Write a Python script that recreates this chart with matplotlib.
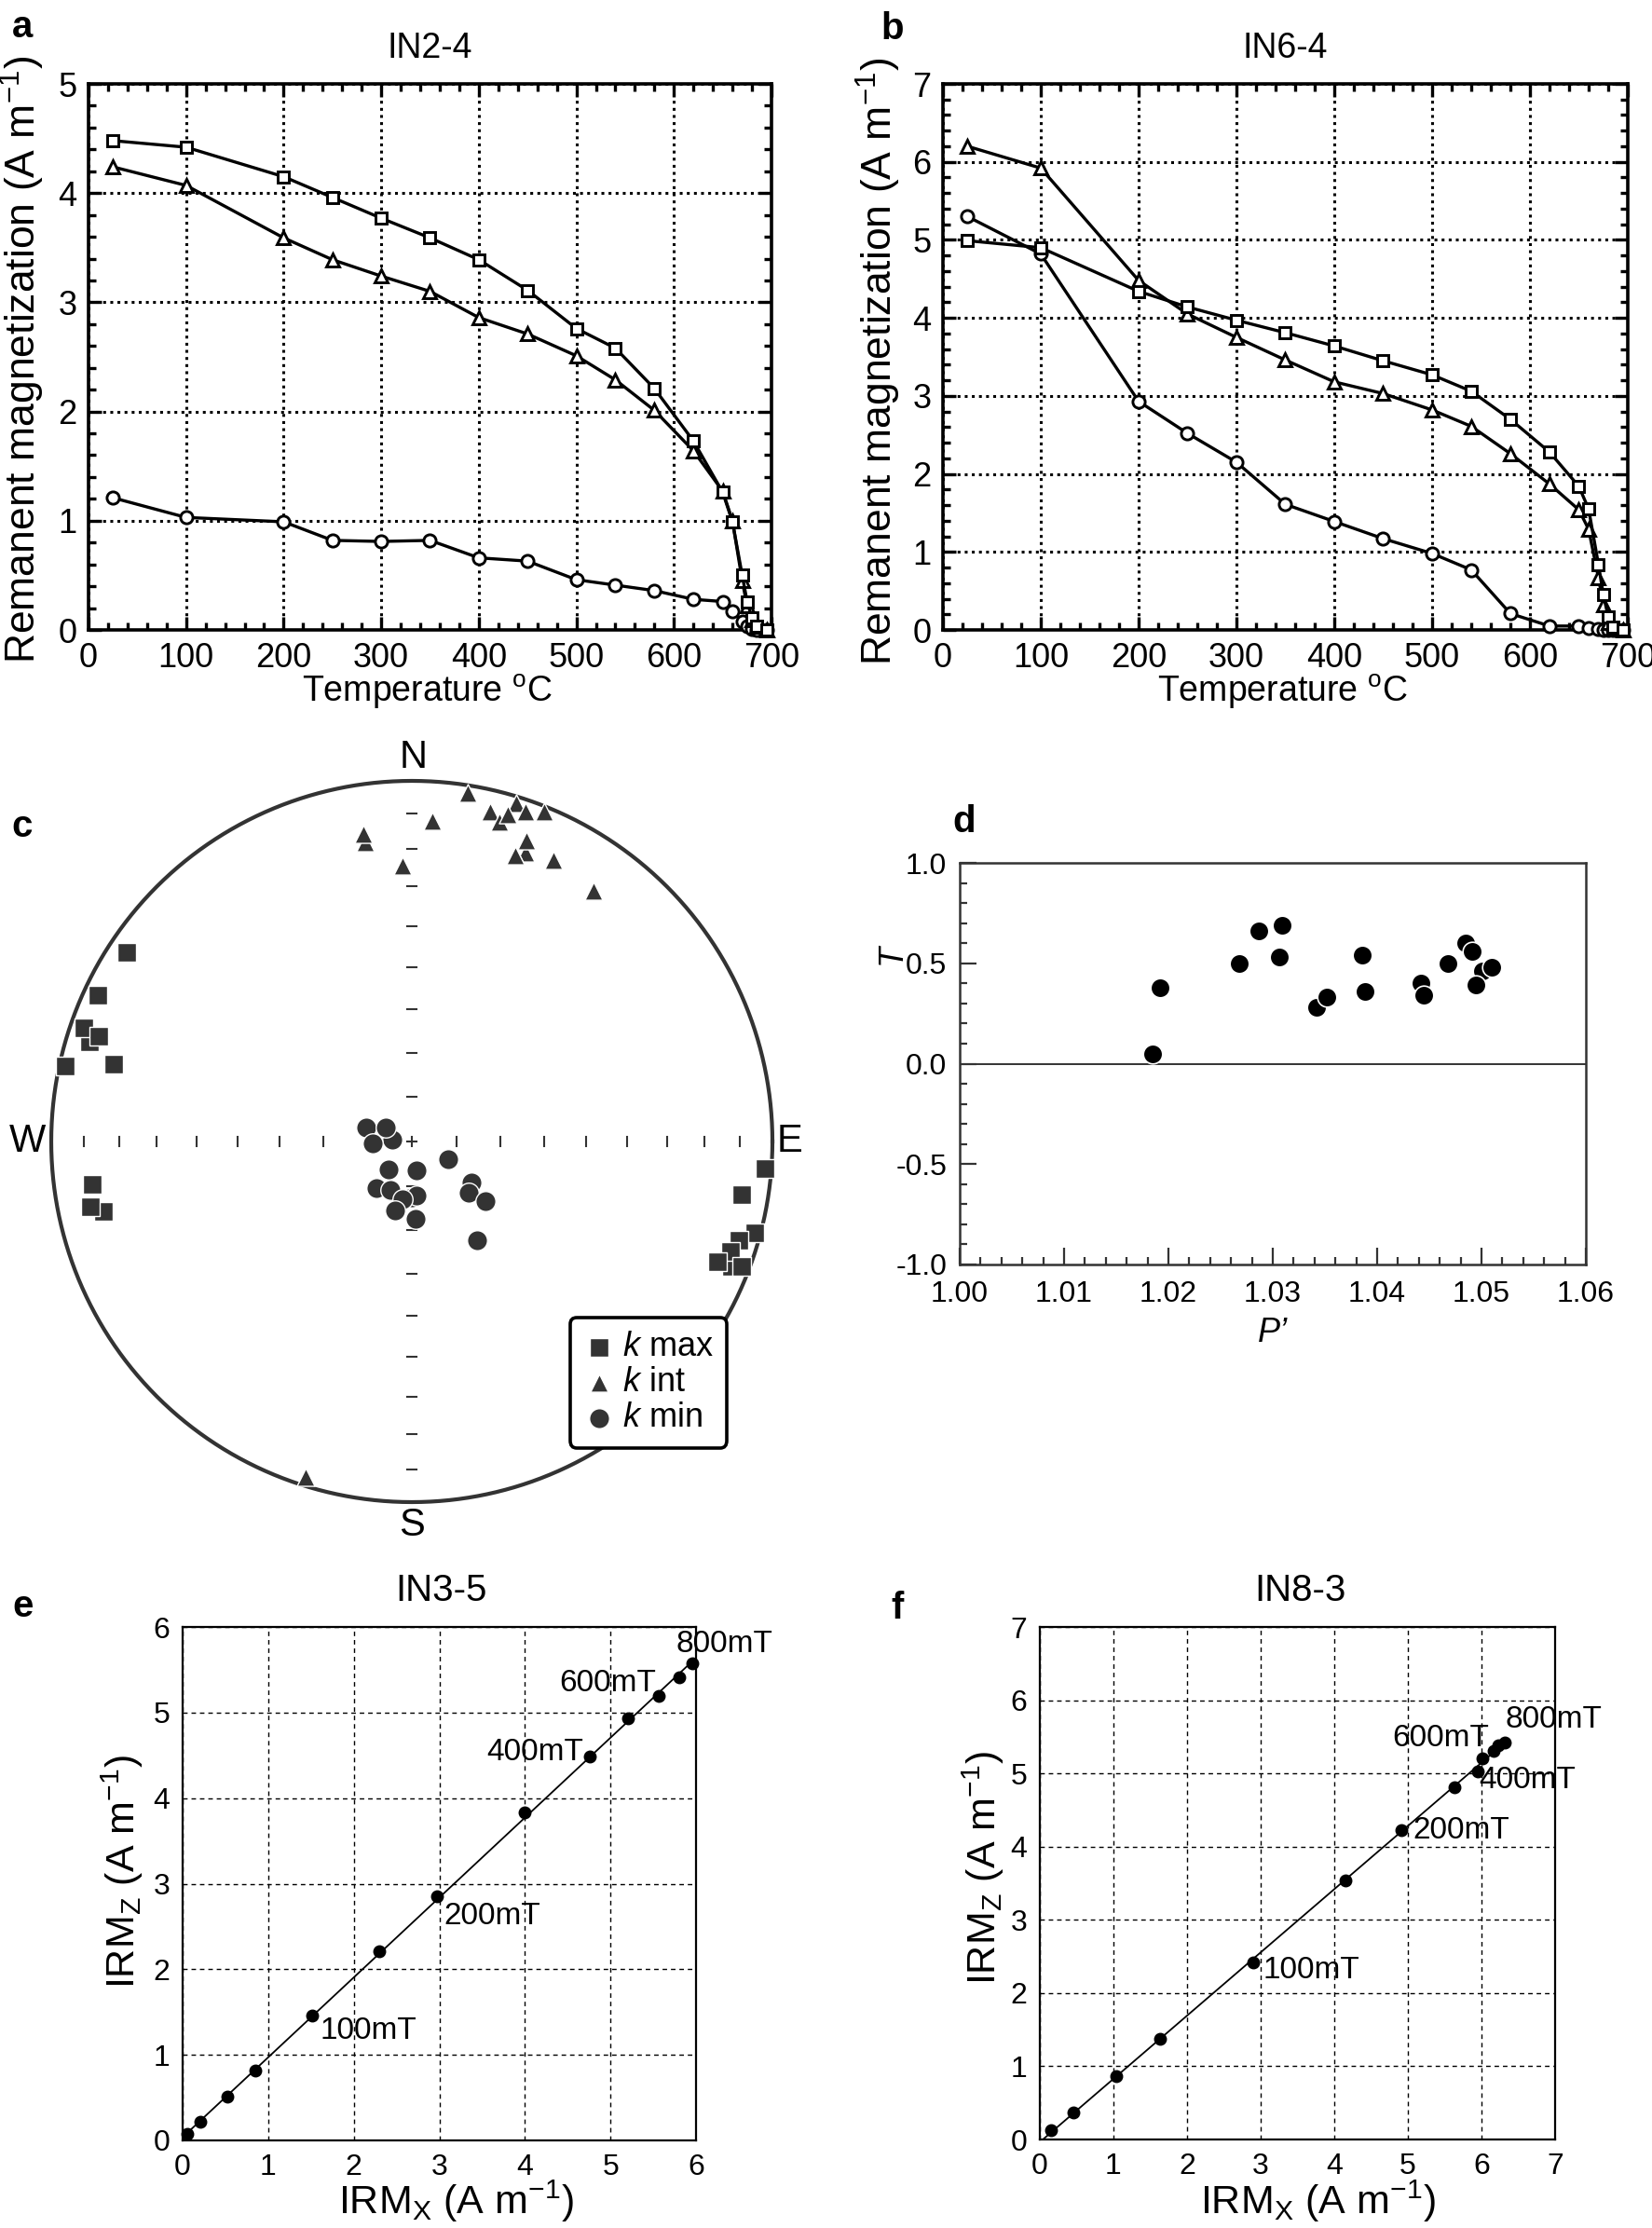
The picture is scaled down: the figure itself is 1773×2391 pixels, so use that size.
import matplotlib
matplotlib.use('Agg')
import matplotlib.pyplot as plt
import numpy as np
from matplotlib.ticker import MultipleLocator, FormatStrFormatter

plt.rcParams['font.family'] = ['Liberation Sans', 'DejaVu Sans']
plt.rcParams['mathtext.fontset'] = 'custom'
plt.rcParams['mathtext.rm'] = 'Liberation Sans'
plt.rcParams['mathtext.it'] = 'Liberation Sans:italic'
plt.rcParams['mathtext.bf'] = 'Liberation Sans:bold'
plt.rcParams['axes.unicode_minus'] = False

# ---------------- data ----------------
temps = [25, 100, 200, 250, 300, 350, 400, 450, 500, 540, 580, 620, 650, 660, 670, 675, 680, 685, 695]

a_square = [4.48, 4.42, 4.15, 3.96, 3.77, 3.59, 3.39, 3.11, 2.76, 2.58, 2.21, 1.73, 1.26, 0.99, 0.50, 0.26, 0.11, 0.03, 0.0]
a_triangle = [4.24, 4.07, 3.59, 3.39, 3.24, 3.10, 2.86, 2.71, 2.51, 2.29, 2.01, 1.64, 1.27, 1.00, 0.45, 0.22, 0.09, 0.03, 0.0]
a_circle = [1.21, 1.03, 0.99, 0.82, 0.81, 0.82, 0.66, 0.63, 0.46, 0.41, 0.36, 0.28, 0.26, 0.17, 0.08, 0.03, 0.01, 0.0, 0.0]

b_square = [4.99, 4.90, 4.34, 4.14, 3.97, 3.81, 3.64, 3.45, 3.27, 3.06, 2.70, 2.28, 1.84, 1.55, 0.84, 0.45, 0.17, 0.04, 0.0]
b_triangle = [6.20, 5.92, 4.48, 4.05, 3.75, 3.46, 3.18, 3.03, 2.82, 2.61, 2.26, 1.87, 1.54, 1.29, 0.67, 0.32, 0.10, 0.02, 0.0]
b_circle = [5.30, 4.82, 2.93, 2.52, 2.15, 1.61, 1.39, 1.17, 0.98, 0.77, 0.21, 0.05, 0.05, 0.02, 0.01, 0.0, 0.0, 0.0, 0.0]

# AMS principal axes (trend, plunge in degrees)
kmax_trend = [287.2, 257.2, 111.3, 303.6, 295.0, 289.1, 288.5, 282.3, 284.6, 262.4, 258.6,
              94.3, 99.1, 105.0, 106.8, 109.0, 111.4, 110.8]
kmax_plunge = [7.0, 13.4, 5.6, 5.8, 4.3, 4.3, 9.2, 1.8, 15.6, 11.6, 10.0,
               2.0, 8.2, 1.9, 5.8, 7.4, 9.8, 2.5]
kint_trend = [17.2, 351.1, 21.5, 19.8, 9.1, 3.7, 351.1, 358.1, 13.3, 15.3, 16.4, 19.0,
              21.8, 20.9, 19.8, 26.7, 36.0, 197.5]
kint_plunge = [2.2, 17.2, 15.0, 16.7, 2.5, 11.9, 14.8, 24.5, 6.6, 9.0, 6.0, 3.6,
               1.6, 11.6, 16.7, 13.6, 15.2, 2.7]
kmin_trend = [180.0, 276.1, 287.4, 298.9, 267.7, 219.7, 171.7, 115.6, 217.3, 203.8, 175.5,
              188.8, 193.4, 176.9, 124.4, 132.2, 129.4, 146.6]
kmin_plunge = [77.5, 85.6, 79.3, 83.4, 81.2, 81.8, 83.4, 80.9, 76.9, 78.0, 77.8,
               76.8, 74.1, 72.6, 73.6, 72.7, 68.6, 63.1]

# shape parameter vs corrected anisotropy degree
P_prime = [1.0185, 1.0192, 1.0268, 1.0287, 1.0309, 1.0306, 1.0342, 1.0352, 1.0386, 1.0388,
           1.0442, 1.0445, 1.0468, 1.0485, 1.0491, 1.0501, 1.0510, 1.0495]
T_shape = [0.05, 0.38, 0.50, 0.66, 0.69, 0.53, 0.28, 0.33, 0.54, 0.36,
           0.40, 0.34, 0.50, 0.60, 0.56, 0.46, 0.48, 0.39]

# IRM acquisition
e_x = [0.055, 0.209, 0.528, 0.854, 1.517, 2.297, 2.973, 3.993, 4.754, 5.203, 5.565, 5.799, 5.958]
e_z = [0.076, 0.214, 0.510, 0.815, 1.463, 2.207, 2.849, 3.833, 4.485, 4.929, 5.189, 5.413, 5.571]
f_x = [0.152, 0.457, 1.036, 1.638, 2.899, 4.152, 4.913, 5.638, 5.949, 6.007, 6.159, 6.232, 6.319]
f_z = [0.125, 0.363, 0.864, 1.376, 2.412, 3.532, 4.229, 4.812, 5.021, 5.211, 5.306, 5.378, 5.426]
field_labels = ['', '', '', '', '100mT', '', '200mT', '', '400mT', '', '600mT', '', '800mT']

# ---------------- figure ----------------
W, H = 1773, 2391
fig = plt.figure(figsize=(W / 100, H / 100), dpi=100)


def add_ax(l, t, r, b):
    return fig.add_axes([l / W, 1 - b / H, (r - l) / W, (b - t) / H])


def place_label(axis, xpx, ypx):
    lab = axis.label
    lab.set_ha('center')
    lab.set_va('center')
    lab.set_rotation_mode('anchor')
    axis.set_label_coords(xpx / W, 1 - ypx / H, transform=fig.transFigure)


def panel_letter(xpx, ypx, s):
    fig.text(xpx / W, 1 - ypx / H, s, fontsize=29, fontweight='bold', ha='left', va='baseline')


def ftitle(xpx, ypx, s, size):
    fig.text(xpx / W, 1 - ypx / H, s, fontsize=size, ha='center', va='center')


def thermal(ax, sq, tri, cir, ymax):
    for vals, m, ms in ((cir, 'o', 9.5), (tri, '^', 9.5), (sq, 's', 9)):
        ax.plot(temps, vals, '-', marker=m, color='k', mfc='white', mec='k', ms=ms,
                mew=2.1, lw=2.4, clip_on=False, zorder=3)
    ax.set_xlim(0, 700)
    ax.set_ylim(0, ymax)
    ax.xaxis.set_major_locator(MultipleLocator(100))
    ax.xaxis.set_minor_locator(MultipleLocator(20))
    ax.yaxis.set_major_locator(MultipleLocator(1))
    ax.yaxis.set_minor_locator(MultipleLocator(0.2))
    ax.grid(True, which='major', color='k', ls=(0, (1, 1.5)), lw=2.2)
    ax.tick_params(which='both', direction='in', top=True, right=True, width=2.4,
                   labelsize=26, pad=9)
    ax.tick_params(which='major', length=10)
    ax.tick_params(which='minor', length=6)
    for sp in ax.spines.values():
        sp.set_linewidth(2.6)
    ax.set_ylabel('Remanent magnetization (A m$^{-1}$)', fontsize=32)
    ax.set_xlabel('Temperature $^{\\mathrm{o}}$C', fontsize=27)


# panel a
ax_a = add_ax(95, 90, 828, 676)
thermal(ax_a, a_square, a_triangle, a_circle, 5)
place_label(ax_a.yaxis, 24, 386)
place_label(ax_a.xaxis, 458, 742)
ftitle(461, 52, 'IN2-4', 27)
panel_letter(13, 40, 'a')

# panel b
ax_b = add_ax(1012, 90, 1747, 676)
thermal(ax_b, b_square, b_triangle, b_circle, 7)
place_label(ax_b.yaxis, 943, 388)
place_label(ax_b.xaxis, 1376, 742)
ftitle(1379, 52, 'IN6-4', 27)
panel_letter(945, 42, 'b')

# panel c : equal-area stereonet
cx, cy, R = 442, 1225, 387
lim = 1.12
ax_c = add_ax(cx - lim * R, cy - lim * R, cx + lim * R, cy + lim * R)
ax_c.set_xlim(-lim, lim)
ax_c.set_ylim(-lim, lim)
ax_c.set_aspect('equal')
ax_c.axis('off')


def eqarea(trend, plunge):
    t = np.radians(np.asarray(trend))
    r = np.sqrt(2) * np.sin(np.radians(90 - np.asarray(plunge)) / 2)
    return r * np.sin(t), r * np.cos(t)


th = np.linspace(0, 2 * np.pi, 721)
ax_c.plot(np.cos(th), np.sin(th), color='#333333', lw=3.0, zorder=1)
tick_r = np.sqrt(2) * np.sin(np.radians(90 - np.arange(10, 90, 10)) / 2)
tl = 0.014
for r in tick_r:
    for s in (1, -1):
        ax_c.plot([-tl, tl], [s * r, s * r], color='#333333', lw=1.5, zorder=1)
        ax_c.plot([s * r, s * r], [-tl, tl], color='#333333', lw=1.5, zorder=1)
ax_c.plot([-tl, tl], [0, 0], color='#333333', lw=1.5, zorder=1)
ax_c.plot([0, 0], [-tl, tl], color='#333333', lw=1.5, zorder=1)

mc = '#333333'
x, y = eqarea(kmax_trend, kmax_plunge)
ax_c.scatter(x, y, marker='s', s=200, c=mc, edgecolors='white', linewidths=1.0, zorder=3,
             label='$k$ max', clip_on=False)
x, y = eqarea(kint_trend, kint_plunge)
ax_c.scatter(x, y, marker='^', s=190, c=mc, edgecolors='white', linewidths=1.0, zorder=3,
             label='$k$ int', clip_on=False)
x, y = eqarea(kmin_trend, kmin_plunge)
ax_c.scatter(x, y, marker='o', s=240, c=mc, edgecolors='white', linewidths=1.0, zorder=3,
             label='$k$ min', clip_on=False)

for s_, px, py in (('N', 0.003, 1.065), ('S', 0.0, -1.065), ('W', -1.065, 0.0), ('E', 1.049, 0.0)):
    ax_c.text(px, py, s_, fontsize=30, ha='center', va='center', color='k')

leg = ax_c.legend(loc='upper left', bbox_to_anchor=(612 / W, 1 - 1414 / H),
                  bbox_transform=fig.transFigure, borderaxespad=0, fontsize=26,
                  frameon=True, fancybox=True, edgecolor='black', framealpha=1,
                  handletextpad=0.25, handlelength=0.9, labelspacing=0.08, borderpad=0.4,
                  scatterpoints=1)
leg.get_frame().set_linewidth(2.6)
leg.set_zorder(5)
panel_letter(12, 898, 'c')

# panel d
ax_d = add_ax(1030, 926, 1702, 1357)
ax_d.scatter(P_prime, T_shape, s=220, c='black', edgecolors='white', linewidths=1.2, zorder=3)
ax_d.axhline(0, color='#333333', lw=1.4, zorder=2)
ax_d.set_xlim(1.0, 1.06)
ax_d.set_ylim(-1.0, 1.0)
ax_d.xaxis.set_major_locator(MultipleLocator(0.01))
ax_d.xaxis.set_minor_locator(MultipleLocator(0.002))
ax_d.yaxis.set_major_locator(MultipleLocator(0.5))
ax_d.yaxis.set_minor_locator(MultipleLocator(0.1))
ax_d.xaxis.set_major_formatter(FormatStrFormatter('%.2f'))
ax_d.yaxis.set_major_formatter(FormatStrFormatter('%.1f'))
ax_d.tick_params(which='both', direction='in', colors='#333333', labelcolor='k',
                 width=1.6, labelsize=23)
ax_d.tick_params(axis='y', which='major', length=13, pad=10)
ax_d.tick_params(axis='x', which='major', length=13, pad=12)
ax_d.tick_params(which='minor', length=6)
for sp in ax_d.spines.values():
    sp.set_linewidth(1.8)
    sp.set_color('#333333')
ax_d.set_ylabel('T', fontsize=26, style='italic')
ax_d.set_xlabel('P\u2019', fontsize=26, style='italic')
place_label(ax_d.yaxis, 957, 1024)
place_label(ax_d.xaxis, 1366, 1430)
panel_letter(1022, 893, 'd')


# panels e, f
def irm(ax, xs, zs, lim, offsets):
    coef = np.polyfit(xs, zs, 1)
    xx = np.array([0.0, max(xs)])
    ax.plot(xx, np.polyval(coef, xx), color='k', lw=1.3, zorder=2)
    ax.plot(xs, zs, 'o', color='k', ms=9, zorder=3, clip_on=False)
    for i, lab in enumerate(field_labels):
        if lab:
            dx, dy, ha = offsets[lab]
            ax.annotate(lab, (xs[i], zs[i]), xytext=(dx, dy), textcoords='offset points',
                        ha=ha, va='center', fontsize=24, annotation_clip=False)
    ax.set_xlim(0, lim)
    ax.set_ylim(0, lim)
    ax.xaxis.set_major_locator(MultipleLocator(1))
    ax.yaxis.set_major_locator(MultipleLocator(1))
    ax.grid(True, color='k', ls=(0, (3.5, 3)), lw=1.0)
    ax.tick_params(length=0, labelsize=23, pad=10)
    for sp in ax.spines.values():
        sp.set_linewidth(1.6)
    ax.set_ylabel('IRM$_{\\mathrm{Z}}$ (A m$^{-1}$)', fontsize=31)
    ax.set_xlabel('IRM$_{\\mathrm{X}}$ (A m$^{-1}$)', fontsize=31)


ax_e = add_ax(196, 1746, 747, 2297)
irm(ax_e, e_x, e_z, 6, {'100mT': (6, -12, 'left'), '200mT': (5, -15, 'left'),
                        '400mT': (-5, 3.5, 'right'), '600mT': (-2, 10, 'right'),
                        '800mT': (-13, 15, 'left')})
place_label(ax_e.yaxis, 131, 2009)
place_label(ax_e.xaxis, 489, 2362)
ftitle(473, 1707, 'IN3-5', 29)
panel_letter(13, 1735, 'e')

ax_f = add_ax(1116, 1746, 1669, 2296)
irm(ax_f, f_x, f_z, 7, {'100mT': (7.5, -5.5, 'left'), '200mT': (9, -0.7, 'left'),
                        '400mT': (1, -6.5, 'left'), '600mT': (-3, 10, 'right'),
                        '800mT': (0.5, 17.5, 'left')})
place_label(ax_f.yaxis, 1055, 2005)
place_label(ax_f.xaxis, 1414, 2362)
ftitle(1395, 1707, 'IN8-3', 29)
panel_letter(956, 1737, 'f')

fig.savefig('out.png', dpi=100)
